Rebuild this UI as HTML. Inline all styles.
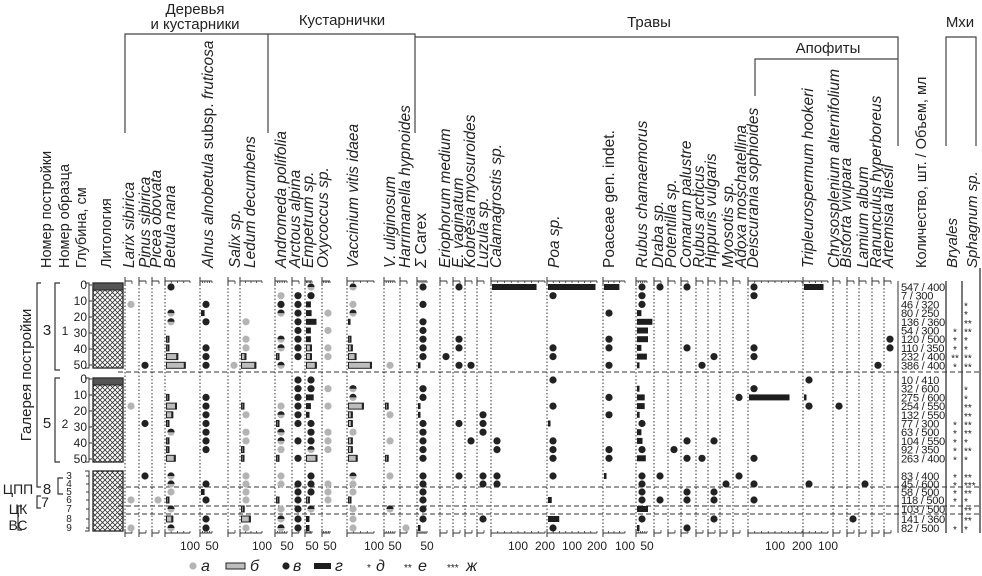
<!DOCTYPE html>
<html><head><meta charset="utf-8"><style>
html,body{margin:0;padding:0;background:#fff}
svg{display:block}
text{font-family:"Liberation Sans",sans-serif;fill:#222}
</style></head><body>
<svg id="chart" width="982" height="576" viewBox="0 0 982 576" xmlns="http://www.w3.org/2000/svg">
<defs>
<pattern id="hatch" width="5" height="5" patternUnits="userSpaceOnUse">
<path d="M0,0 L5,5 M5,0 L0,5" stroke="#333" stroke-width="0.8"/>
</pattern>
</defs>
<g id="header">
<text x="195" y="14" font-size="15" text-anchor="middle">Деревья</text>
<text x="195" y="29" font-size="15" text-anchor="middle">и кустарники</text>
<text x="342" y="25" font-size="15" text-anchor="middle">Кустарнички</text>
<text x="649" y="27" font-size="15" text-anchor="middle">Травы</text>
<text x="828" y="53" font-size="15" text-anchor="middle">Апофиты</text>
<text x="960" y="27" font-size="15" text-anchor="middle">Мхи</text>
<path d="M125,133 V34 H415 V133 M268,34 V133 M415,37 H898 V146 M755,96 V59 H898 M946,146 V37 H976 V146" stroke="#444" stroke-width="1.2" fill="none"/>
</g>
<g id="plot"></g>
</svg>
<script>
// ---- data ----
const larix=[[2,"a"],[13,"a"],[23,"a"],[26,"a"]];
const pinus=[[9,"v"],[15,"v"],[20,"v"]];
const picea=[[23,"a"]];
const betula=[[0,"v"],[3,"h"],[4,"h"],[6,"b",5],[7,"b",5],[8,"b",45],[9,"b",75],[12,"b",5],[13,"b",40],[14,"b",25],[15,"b",5],[16,"h"],[17,"b",3],[18,"b",3],[19,"b",35],[20,"h"],[21,"h"],[22,"a"],[23,"b",3],[24,"h"],[25,"b",25],[26,"h"]];
const alnus=[[2,"v"],[3,"g",15],[4,"v"],[7,"v"],[8,"v"],[9,"v"],[12,"v"],[13,"v"],[14,"v"],[15,"v"],[16,"v"],[17,"v"],[18,"v"],[21,"v"],[22,"g",15],[23,"v"],[25,"v"],[26,"v"]];
const salix=[[9,"a"]];
const ledum=[[4,"a"],[6,"a"],[7,"a"],[8,"b",20],[9,"b",65],[13,"b",8],[14,"a"],[16,"a"],[17,"a"],[18,"b",8],[19,"b",8],[20,"a"],[21,"a"],[22,"a"],[23,"a"],[24,"b",12],[25,"b",40],[26,"a"]];
const andromeda=[[1,"a"],[2,"v"],[3,"h"],[6,"h"],[7,"h"],[8,"b",10],[9,"h"],[13,"a"],[14,"h"],[15,"b",10],[16,"h"],[17,"h"],[18,"a"],[19,"b",10],[20,"a"],[21,"a"],[23,"b",10],[24,"a"],[25,"h"],[26,"h"]];
const arctous=[[1,"v"],[2,"v"],[3,"v"],[4,"v"],[5,"v"],[6,"v"],[7,"v"],[8,"v"],[10,"v"],[11,"v"],[12,"v"],[13,"v"],[14,"v"],[15,"v"],[17,"v"],[19,"v"],[21,"v"],[22,"v"],[23,"v"],[24,"v"],[25,"v"],[26,"v"]];
const empetrum=[[0,"h"],[1,"v"],[2,"g",35],[3,"g",40],[4,"g",75],[5,"g",35],[6,"g",35],[7,"b",35],[8,"b",35],[9,"b",70],[10,"v"],[11,"v"],[12,"g",55],[13,"g",35],[14,"g",25],[15,"v"],[16,"v"],[17,"v"],[18,"h"],[19,"b",75],[20,"v"],[21,"v"],[22,"v"],[23,"b",20],[24,"h"],[25,"g",25],[26,"g",25]];
const oxycoccus=[[3,"a"],[5,"a"],[7,"a"],[8,"a"],[11,"a"],[13,"a"],[16,"a"],[17,"a"],[18,"a"],[21,"a"],[22,"a"],[23,"a"]];
const vaccinium=[[0,"h"],[2,"a"],[3,"h"],[4,"g",6],[6,"b",6],[7,"b",14],[8,"b",28],[9,"b",85],[11,"h"],[12,"h"],[13,"b",55],[14,"b",14],[15,"b",14],[16,"a"],[17,"b",14],[18,"b",14],[19,"b",32],[20,"h"],[21,"a"],[22,"a"],[23,"b",6],[24,"a"],[25,"a"],[26,"a"]];
const uliginosum=[[9,"a"],[13,"b",12],[14,"a"],[17,"a"],[19,"b",12],[20,"a"],[24,"h"]];
const harrimanella=[[26,"a"]];
const carex=[[0,"v"],[2,"v"],[4,"v"],[5,"v"],[6,"v"],[7,"v"],[8,"v"],[9,"g",12],[11,"v"],[12,"v"],[13,"g",12],[14,"g",12],[15,"v"],[16,"v"],[17,"v"],[18,"v"],[19,"v"],[20,"v"],[21,"v"],[22,"v"],[23,"v"],[24,"v"],[25,"v"],[26,"g",12]];
const eriophorum=[[8,"v"]];
const vaginatum=[[0,"v"],[6,"v"],[7,"v"],[9,"v"],[15,"v"],[20,"v"]];
const kobresia=[[9,"v"],[17,"v"]];
const luzula=[[14,"v"],[15,"v"],[16,"v"],[20,"v"],[21,"v"],[25,"v"]];
const calamagrostis=[[0,"g",165],[17,"v"],[18,"v"],[20,"v"],[21,"v"]];
const poa=[[0,"g",190],[1,"v"],[7,"v"],[8,"v"],[10,"v"],[13,"v"],[15,"g",10],[17,"v"],[18,"v"],[19,"v"],[20,"v"],[23,"g",15],[25,"g",45],[26,"v"]];
const poaceae=[[0,"g",70],[3,"v"],[6,"v"],[7,"v"],[9,"v"],[12,"v"],[14,"v"],[18,"v"],[19,"v"],[20,"g",10]];
const rubusCham=[[0,"v"],[1,"v"],[2,"v"],[3,"g",20],[4,"g",70],[5,"g",50],[6,"g",50],[7,"g",20],[8,"g",45],[9,"g",8],[11,"g",8],[12,"g",35],[13,"g",35],[14,"g",12],[15,"v"],[16,"g",20],[17,"g",25],[18,"v"],[19,"g",40],[20,"v"],[21,"v"],[22,"v"],[23,"v"],[24,"g",50],[25,"v"],[26,"g",8]];
const draba=[[0,"v"],[20,"v"],[23,"v"]];
const potentilla=[[18,"v"]];
const comarum=[[0,"v"],[7,"v"],[17,"v"],[19,"v"],[22,"v"],[23,"v"],[26,"v"]];
const rubusArct=[[9,"v"],[19,"v"]];
const hippuris=[[8,"v"],[17,"v"],[22,"v"],[23,"v"],[25,"v"]];
const myosotis=[[21,"v"]];
const adoxa=[[12,"v"],[20,"v"]];
const descurainia=[[0,"v"],[1,"v"],[7,"v"],[8,"v"],[11,"v"],[12,"g",150],[19,"v"],[21,"v"],[23,"v"]];
const tripleurospermum=[[0,"g",78],[10,"v"],[12,"g",4],[13,"v"],[21,"v"]];
const chrysosplenium=[[13,"v"]];
const bistorta=[[25,"v"]];
const lamium=[[21,"v"]];
const ranunculus=[[9,"v"]];
const artemisia=[[6,"v"],[7,"v"]];
const counts=["547 / 400","7 / 300","46 / 320","80 / 250","136 / 360","54 / 300","120 / 500","110 / 350","232 / 400","386 / 400","10 / 410","32 / 600","275 / 600","254 / 550","132 / 550","77 / 300","63 / 500","104 / 550","92 / 350","263 / 400","83 / 400","45 / 600","58 / 500","118 / 500","103 / 500","141 / 360","82 / 500"];
const bryales=[0,0,0,0,0,1,1,1,2,1,0,0,0,0,0,1,1,1,1,1,1,1,1,1,0,0,1];
const sphagnum=[0,0,1,1,2,2,1,1,2,2,0,1,1,2,2,2,2,1,2,1,2,3,2,1,2,2,1];
const depthTicks=[0,10,20,30,40,50];
const sec3Labels=["3","4","5","6","7","8","9"];

// ---- layout ----
const NS="http://www.w3.org/2000/svg";
const plot=document.getElementById("plot");
const Y_TOP=281, Y_BOT=533;
const sec3Y=[476,484,492,500,509,519,528];
function rowY(i){ if(i<10) return 287+i*8.7; if(i<20) return 380+(i-10)*8.7; return sec3Y[i-20]; }
function depthY(sec,d){ return (sec===0?285:379)+d*1.6; }
function el(tag,attrs,parent){const e=document.createElementNS(NS,tag);for(const k in attrs)e.setAttribute(k,attrs[k]);(parent||plot).appendChild(e);return e;}
function txt(s,attrs,parent){const e=el("text",attrs,parent);e.textContent=s;return e;}

const columns=[
 {id:"larix",d:larix,x:125,lx:134,label:"Larix sibirica"},
 {id:"pinus",d:pinus,x:139,lx:150,label:"Pinus sibirica"},
 {id:"picea",d:picea,x:152,lx:161,label:"Picea obovata"},
 {id:"betula",d:betula,x:165,lx:175,label:"Betula nana",s:0.25,max:100,tick:[100]},
 {id:"alnus",d:alnus,x:200,lx:213,label:["Alnus alnobetula ","subsp. ","fruticosa"],s:0.24,max:50,tick:[50]},
 {id:"salix",d:salix,x:228,lx:240,label:"Salix sp."},
 {id:"ledum",d:ledum,x:240,lx:255,label:"Ledum decumbens",s:0.22,max:100,tick:[100]},
 {id:"andromeda",d:andromeda,x:275,lx:286,label:"Andromeda polifolia",s:0.24,max:50,tick:[50]},
 {id:"arctous",d:arctous,x:292,lx:300,label:"Arctous alpina"},
 {id:"empetrum",d:empetrum,x:305,lx:313,label:"Empetrum sp.",s:0.14,max:50,tick:[50]},
 {id:"oxycoccus",d:oxycoccus,x:322,lx:328,label:"Oxycoccus sp.",s:0.16,max:50,tick:[50]},
 {id:"vaccinium",d:vaccinium,x:347,lx:358,label:"Vaccinium vitis idaea",s:0.27,max:100,tick:[100]},
 {id:"uliginosum",d:uliginosum,x:384,lx:395,label:"V. uliginosum",s:0.22,max:50,tick:[50]},
 {id:"harrimanella",d:harrimanella,x:400,lx:410,label:"Harrimanella hypnoides"},
 {id:"carex",d:carex,x:417,lx:426,label:["Σ ","Carex"],s:0.2,max:50,tick:[50]},
 {id:"eriophorum",d:eriophorum,x:440,lx:450,label:"Eriophorum medium"},
 {id:"vaginatum",d:vaginatum,x:453,lx:463,label:"E. vaginatum"},
 {id:"kobresia",d:kobresia,x:465,lx:475,label:"Kobresia myosuroides"},
 {id:"luzula",d:luzula,x:477,lx:488,label:"Luzula sp."},
 {id:"calamagrostis",d:calamagrostis,x:491,lx:501,label:"Calamagrostis sp.",s:0.27,max:200,tick:[100,200]},
 {id:"poa",d:poa,x:547,lx:559,label:"Poa sp.",s:0.25,max:200,tick:[100,200]},
 {id:"poaceae",d:poaceae,x:603,lx:614,label:["","Poaceae gen. indet."],s:0.22,max:100,tick:[100]},
 {id:"rubus-chamaemorus",d:rubusCham,x:636,lx:647,label:"Rubus chamaemorus",s:0.22,max:50,tick:[50]},
 {id:"draba",d:draba,x:654,lx:663,label:"Draba sp."},
 {id:"potentilla",d:potentilla,x:668,lx:676,label:"Potentilla sp."},
 {id:"comarum",d:comarum,x:681,lx:691,label:"Comarum palustre"},
 {id:"rubus-arcticus",d:rubusArct,x:696,lx:704,label:"Rubus arcticus"},
 {id:"hippuris",d:hippuris,x:708,lx:716,label:"Hippuris vulgaris"},
 {id:"myosotis",d:myosotis,x:720,lx:733,label:"Myosotis sp."},
 {id:"adoxa",d:adoxa,x:733,lx:746,label:"Adoxa moschatellina"},
 {id:"descurainia",d:descurainia,x:748,lx:758,label:"Deiscurania sophioides",s:0.27,max:200,tick:[100,200]},
 {id:"tripleurospermum",d:tripleurospermum,x:803,lx:813,label:"Tripleurospermum hookeri",s:0.25,max:100,tick:[100]},
 {id:"chrysosplenium",d:chrysosplenium,x:833,lx:839,label:"Chrysosplenium alternifolium"},
 {id:"bistorta",d:bistorta,x:847,lx:851,label:"Bistorta vivipara"},
 {id:"lamium",d:lamium,x:859,lx:868,label:"Lamium album"},
 {id:"ranunculus",d:ranunculus,x:872,lx:881,label:"Ranunculus hyperboreus"},
 {id:"artemisia",d:artemisia,x:884,lx:893,label:"Artemisia tilesii"}
];

// left headers
[["Номер постройки",51],["Номер образца",69],["Глубина, см",86],["Литология",111]].forEach(([t,x],i)=>{
 const e=txt(t,{x:x,y:268,"font-size":14.5,transform:`rotate(-90 ${x} 268)`});
 
 
});
const qh=txt("Количество, шт. / Объем, мл",{x:926,y:268,"font-size":14.5,transform:"rotate(-90 926 268)"});


[["Bryales",957],["Sphagnum sp.",977]].forEach(([t,x])=>{
 const e=txt(t,{x:x,y:268,"font-size":15,"font-style":"italic",transform:`rotate(-90 ${x} 268)`});
 
 
});

// separators
[372,487,506,514].forEach(y=>{
 const l=el("line",{x1:118,x2:982,y1:y,y2:y,stroke:"#333","stroke-width":1,"stroke-dasharray":"5,3"});
 
 
});

// columns
columns.forEach(c=>{
 const g=el("g",{});
 
 
 const t=el("text",{x:c.lx,y:268,"font-size":15.5,"font-style":"italic",transform:`rotate(-90 ${c.lx} 268)`},g);
 if(Array.isArray(c.label)){
  c.label.forEach((p,i)=>{const ts=el("tspan",{"font-style":(i%2===1)?"normal":"italic"},t);ts.textContent=p;});
 } else t.textContent=c.label;
 
 
 const len=c.s?c.max*c.s:7;
 el("line",{x1:c.x,x2:c.x,y1:Y_TOP,y2:Y_BOT,stroke:"#333","stroke-width":1,"stroke-dasharray":"1.5,2"},g);
 [Y_TOP,Y_BOT].forEach(yy=>{
  el("line",{x1:c.x,x2:c.x+len,y1:yy,y2:yy,stroke:"#333","stroke-width":1},g);
  el("line",{x1:c.x,x2:c.x,y1:yy-4,y2:yy+4,stroke:"#333","stroke-width":1},g);
  const dir=yy===Y_TOP?1:-1;
  if(c.s){const step=c.max>=100?25:10;for(let v=step;v<=c.max;v+=step)el("line",{x1:c.x+v*c.s,x2:c.x+v*c.s,y1:yy,y2:yy+2*dir,stroke:"#333","stroke-width":0.8},g);}
  else el("line",{x1:c.x+len,x2:c.x+len,y1:yy,y2:yy+3*dir,stroke:"#333","stroke-width":0.8},g);
 });
 if(c.tick) c.tick.forEach(v=>{
  const tl=txt(String(v),{x:c.x+v*c.s,y:550,"font-size":12,"text-anchor":"middle"},g);
  
  
 });
 c.d.forEach(m=>{
  const y=rowY(m[0]), cx=c.x+6;
  let mk;
  if(m[1]==="a"){mk=el("circle",{cx:cx,cy:y,r:3.6,fill:"#b4b4b4"},g);}
  else if(m[1]==="v"){mk=el("circle",{cx:cx,cy:y,r:3.6,fill:"#222"},g);}
  else if(m[1]==="h"){
   mk=el("g",{},g);
   el("circle",{cx:cx,cy:y,r:3.6,fill:"#b4b4b4"},mk);
   el("path",{d:`M${cx-3.6},${y} A3.6,3.6 0 0 1 ${cx+3.6},${y} Z`,fill:"#222"},mk);
  } else {
   const w=Math.max(2.5,m[2]*(c.s||0.25));
   if(m[1]==="g"){mk=el("rect",{x:c.x+1,y:y-3,width:w,height:6,fill:"#1e1e1e"},g);}
   else{mk=el("g",{},g);
    el("rect",{x:c.x+1.5,y:y-3,width:w,height:6,fill:"#bdbdbd",stroke:"#222","stroke-width":1},mk);
    el("rect",{x:c.x+1.5+w-1.5,y:y-3,width:2,height:6,fill:"#222"},mk);}
  }
  
  
 });
});

// counts & mosses
el("line",{x1:898,x2:898,y1:281,y2:533,stroke:"#333"});
[946,962].forEach(x=>{const l=el("line",{x1:x,x2:x,y1:281,y2:533,stroke:"#333","stroke-width":1.3});
 
 });
el("line",{x1:980,x2:980,y1:268,y2:533,stroke:"#333","stroke-width":1.3});
counts.forEach((s,i)=>{
 const t=txt(s,{x:901,y:rowY(i)+4,"font-size":11.2,"letter-spacing":"-0.3"});
 
 
});
bryales.forEach((n,i)=>{ if(!n)return;
 const t=txt("*".repeat(n),{x:955,y:rowY(i)+5,"font-size":10,"text-anchor":"middle"});
 
 
});
sphagnum.forEach((n,i)=>{ if(!n)return;
 const t=txt("*".repeat(n),{x:964,y:rowY(i)+5,"font-size":10});
 
 
});

// lithology
[[283,368,true],[378,462,true],[471,531,false]].forEach(([y1,y2,band])=>{
 const r=el("rect",{x:93,y:y1,width:30,height:y2-y1,fill:"url(#hatch)",stroke:"#222","stroke-width":1.3});
 
 
 if(band) el("rect",{x:93,y:y1,width:30,height:7,fill:"#555",stroke:"#222"});
 el("path",{d:`M85,${y1} H89 V${y2} H85`,stroke:"#333",fill:"none"});
});
[0,1].forEach(sec=>{
 depthTicks.forEach(d=>{
  const t=txt(String(d),{x:87,y:depthY(sec,d)+4,"font-size":12,"text-anchor":"end"});
  
  
  el("line",{x1:89,x2:92,y1:depthY(sec,d),y2:depthY(sec,d),stroke:"#333"});
 });
});
sec3Labels.forEach((s,i)=>{
 const t=txt(s,{x:69,y:sec3Y[i]+3,"font-size":10,"text-anchor":"middle"});
 
 
 el("line",{x1:86,x2:89,y1:sec3Y[i],y2:sec3Y[i],stroke:"#333"});
});

const br=el("path",{d:"M41,283 H37 V487 H41 M60,283 H55 V370 H60 M60,378 H55 V462 H60 M63,478 H58 V494 H63 M41,496 H37 V508 H41 M22,506 H18 V530 H22",stroke:"#333","stroke-width":1.2,fill:"none"});


[["3",47,335,15],["1",65,335,12],["5",47,428,15],["2",65,428,12],["8",47,494,15],["7",45,507,14],["ЦПП",18,494,14],["ЦК",18,514,14],["ВС",18,530,14]].forEach(([s,x,y,f])=>{
 const t=txt(s,{x:x,y:y,"font-size":f,"text-anchor":"middle"});
 
 
});
const gal=txt("Галерея постройки",{x:31,y:375,"font-size":15,"text-anchor":"middle",transform:"rotate(-90 31 375)"});



// legend
const lg=el("g",{});


const LY=566;
el("circle",{cx:193,cy:LY,r:3.6,fill:"#b4b4b4"},lg);
el("rect",{x:226,y:LY-3,width:19,height:6,fill:"#bdbdbd",stroke:"#222"},lg);
el("circle",{cx:286,cy:LY,r:3.6,fill:"#222"},lg);
el("rect",{x:314,y:LY-3,width:17,height:6,fill:"#1e1e1e"},lg);
txt("*",{x:367,y:LY+5,"font-size":10},lg);
txt("**",{x:404,y:LY+5,"font-size":10},lg);
txt("***",{x:447,y:LY+5,"font-size":10},lg);
[["а",201],["б",250],["в",293],["г",335],["д",376],["е",418],["ж",466]].forEach(([s,x])=>{
 const t=txt(s,{x:x,y:LY+5,"font-size":16,"font-style":"italic"},lg);
 
 
});
</script>
</body></html>
